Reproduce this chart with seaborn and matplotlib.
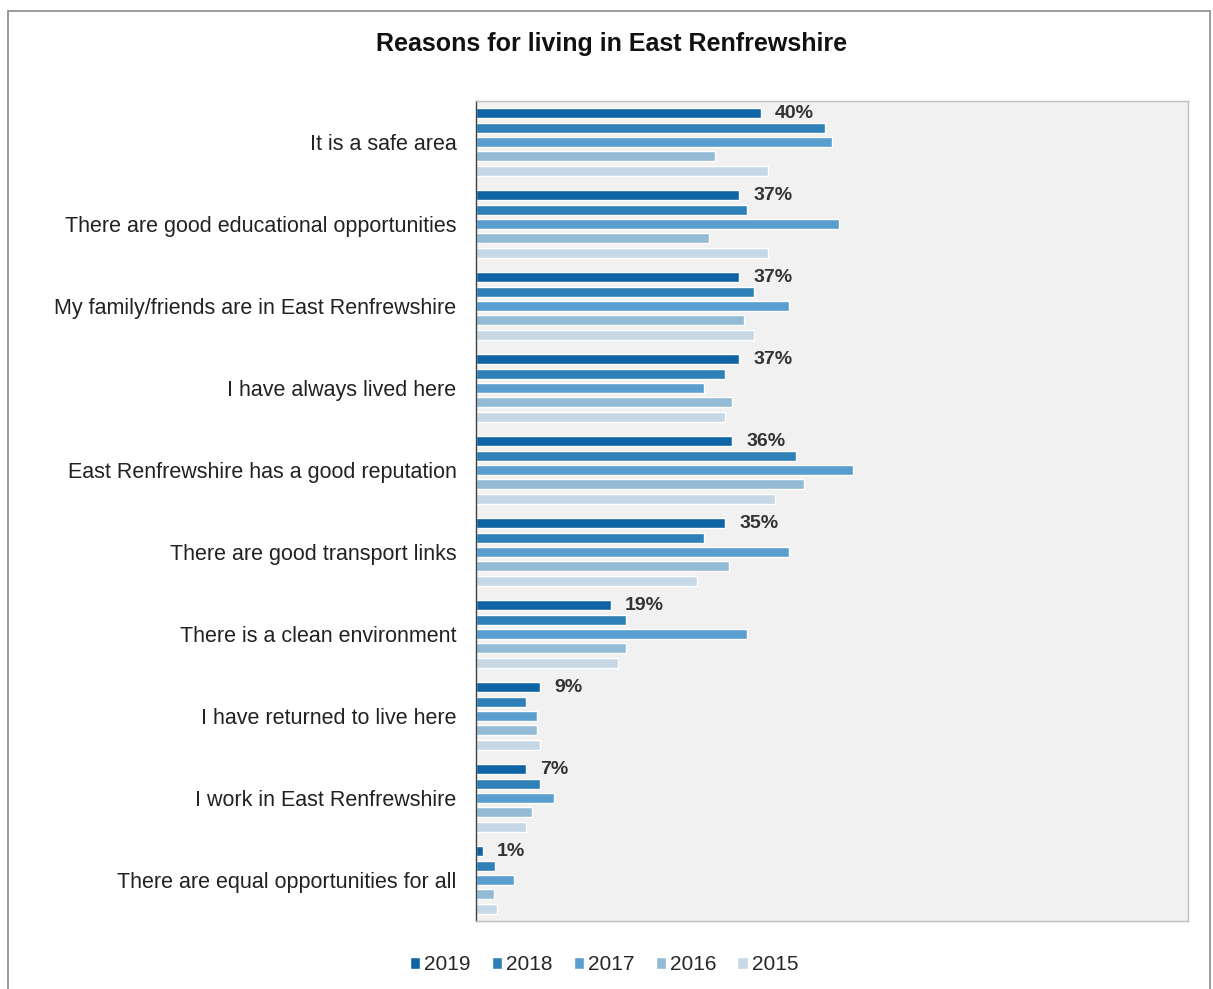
import matplotlib
matplotlib.use("Agg")
import matplotlib.pyplot as plt
from matplotlib.lines import Line2D
import seaborn as sns
import pandas as pd
import numpy as np

categories = [
    "It is a safe area",
    "There are good educational opportunities",
    "My family/friends are in East Renfrewshire",
    "I have always lived here",
    "East Renfrewshire has a good reputation",
    "There are good transport links",
    "There is a clean environment",
    "I have returned to live here",
    "I work in East Renfrewshire",
    "There are equal opportunities for all",
]
years = ["2019", "2018", "2017", "2016", "2015"]
v2019 = [40, 37, 37, 37, 36, 35, 19, 9, 7, 1]
v2018 = [49, 38, 39, 35, 45, 32, 21, 7, 9, 2.7]
v2017 = [50, 51, 44, 32, 53, 44, 38, 8.6, 11, 5.4]
v2016 = [33.5, 32.7, 37.6, 36, 46, 35.6, 21, 8.6, 7.9, 2.5]
v2015 = [41, 41, 39, 35, 42, 31, 20, 9, 7, 3]
colors = ["#0f64a6", "#2f7fb8", "#5a9ecf", "#94bbd6", "#c6d8e6"]

series = {"2019": v2019, "2018": v2018, "2017": v2017, "2016": v2016, "2015": v2015}
rows = []
for y in years:
    for c, v in zip(categories, series[y]):
        rows.append({"Reason": c, "Year": y, "Value": v})
df = pd.DataFrame(rows)

sns.set_style("white")
plt.rcParams["font.family"] = ["Liberation Sans", "DejaVu Sans"]

fig = plt.figure(figsize=(12.13, 9.89), dpi=100)
ax = fig.add_axes([476 / 1213, 1 - 921 / 989, (1188 - 476) / 1213, (921 - 101) / 989])
ax.set_facecolor("#f1f1f1")

sns.barplot(data=df, y="Reason", x="Value", hue="Year", order=categories,
            hue_order=years, palette=colors, orient="h", width=0.875, gap=0.3,
            ax=ax, legend=True, saturation=1)

ax.set_xlim(0, 100)
ax.set_ylim(len(categories) - 0.5, -0.5)
ax.set_xlabel("")
ax.set_ylabel("")
ax.set_xticks([])

ax.set_yticks(range(len(categories)))
ax.set_yticklabels(categories, fontsize=15.5, color="#222222")
ax.tick_params(axis="y", which="major", length=0, pad=14)
ax.set_yticks(np.arange(-0.5, len(categories), 1), minor=True)
ax.tick_params(axis="y", which="minor", length=6, color="#a06040", width=1)

for side in ["top", "right", "bottom"]:
    ax.spines[side].set_color("#bdbdbd")
    ax.spines[side].set_linewidth(1)
ax.spines["left"].set_color("#404040")
ax.spines["left"].set_linewidth(1)

ax.bar_label(ax.containers[0], labels=[f"{v:.0f}%" for v in v2019], padding=10,
             fontsize=14, fontweight="bold", color="#333333")

leg = ax.legend(loc="upper center", bbox_to_anchor=(0.18, -0.019), ncol=5,
                frameon=False, fontsize=15, handlelength=0.5, handleheight=0.5,
                handletextpad=0.2, columnspacing=1.0)

fig.text(612 / 1213, 1 - 44 / 989, "Reasons for living in East Renfrewshire",
         ha="center", va="center", fontsize=18, fontweight="bold", color="#111111")

fig.add_artist(Line2D([8 / 1213, 8 / 1213], [0, 1 - 11 / 989], transform=fig.transFigure,
                      color="#8a8a8a", lw=1.2))
fig.add_artist(Line2D([8 / 1213, 1210 / 1213], [1 - 11 / 989, 1 - 11 / 989],
                      transform=fig.transFigure, color="#8a8a8a", lw=1.2))
fig.add_artist(Line2D([1210 / 1213, 1210 / 1213], [0, 1 - 11 / 989],
                      transform=fig.transFigure, color="#8a8a8a", lw=1.2))

fig.savefig("out.png", dpi=100)
